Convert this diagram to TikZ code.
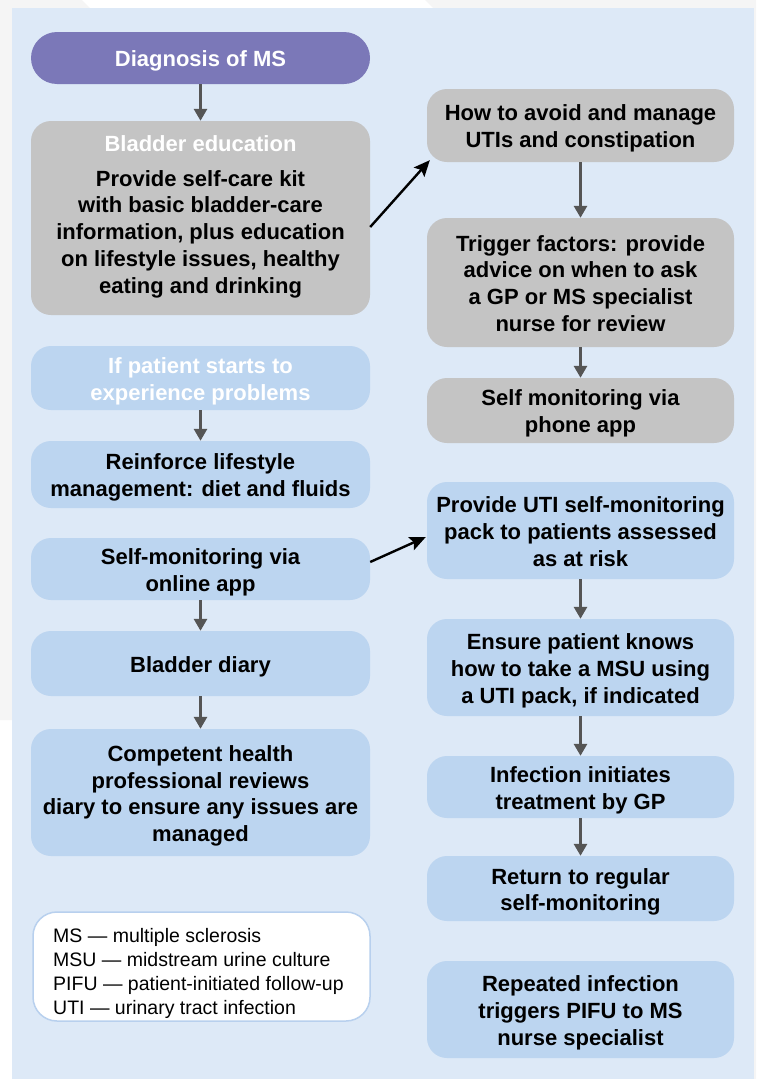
\documentclass[tikz,border=0pt]{standalone}
\usepackage{fontspec}
\setmainfont{Liberation Sans}
\usetikzlibrary{arrows.meta}
\definecolor{panel}{HTML}{DDE9F7}
\definecolor{bluebox}{HTML}{BCD5F0}
\definecolor{graybox}{HTML}{C4C4C4}
\definecolor{purplebox}{HTML}{7B78B8}
\definecolor{arrowgray}{HTML}{555555}
\definecolor{outgray}{HTML}{F5F5F5}
\definecolor{legborder}{HTML}{B8D0EE}
\newcommand\boxtext[1]{\raisebox{-3.5pt}[\height][\depth]{\begin{tabular}{@{}c@{}}#1\end{tabular}}}
\begin{document}
\begin{tikzpicture}[x=1pt,y=-1pt,
  box/.style={rounded corners=20pt, inner sep=0pt,
    font=\fontsize{22}{26.7}\selectfont\bfseries},
  lbox/.style={box, minimum width=339pt},
  rbox/.style={box, minimum width=307pt},
  blue/.style={fill=bluebox},
  grey/.style={fill=graybox},
  garrow/.style={draw=arrowgray, line width=2.8pt, -{Triangle[width=13pt,length=12pt]}},
  karrow/.style={draw=black, line width=2.4pt, -{Stealth[width=14pt,length=16pt,inset=3pt]}},
  legend/.style={rounded corners=24pt, fill=white, draw=legborder, line width=1.5pt,
    minimum width=337pt, minimum height=109pt, inner sep=0pt},
  legtext/.style={align=left, inner sep=0pt, font=\fontsize{19.5}{24}\selectfont}
]
\useasboundingbox (0,0) rectangle (756,1079);
% page background
\fill[white] (0,0) rectangle (756,1079);
\fill[outgray] (0,0) -- (82,0) -- (90,8) -- (12,8) -- (12,720) -- (0,720) -- cycle;
\fill[outgray] (425,0) -- (756,0) -- (756,1079) -- (754,1079) -- (754,8) -- (433,8) -- cycle;
\fill[panel] (12,8) rectangle (754,1079);

% left column
\node[lbox, fill=purplebox, text=white, minimum height=52pt, rounded corners=26pt] (diag) at (200.5,58) {\boxtext{Diagnosis of MS}};
\node[lbox, grey, minimum height=194pt] (b2) at (200.5,218) {};
\node[box, align=center] (b2t) at (200.5,216.5) {\textcolor{white}{Bladder education}\\[8.3pt]
  Provide self-care kit\\with basic bladder-care\\information, plus education\\on lifestyle issues, healthy\\eating and drinking};
\node[lbox, blue, text=white, minimum height=64pt] (b3) at (200.5,378) {\boxtext{If patient starts to\\experience problems}};
\node[lbox, blue, minimum height=67pt] (b4) at (200.5,474.5) {\boxtext{Reinforce lifestyle\\management: diet and fluids}};
\node[lbox, blue, minimum height=62pt] (b5) at (200.5,569) {\boxtext{Self-monitoring via\\online app}};
\node[lbox, blue, minimum height=65pt] (b6) at (200.5,663.5) {\boxtext{Bladder diary}};
\node[lbox, blue, minimum height=127pt] (b7) at (200.5,792.5) {\boxtext{Competent health\\professional reviews\\diary to ensure any issues are\\managed}};
\node[legend] (leg) at (201.5,966.5) {};
\node[legtext, anchor=west] (legt) at (53,973) {MS — multiple sclerosis\\MSU — midstream urine culture\\PIFU — patient-initiated follow-up\\UTI — urinary tract infection};

% right column
\node[rbox, grey, minimum height=73pt] (r1) at (580.5,125.5) {\boxtext{How to avoid and manage\\UTIs and constipation}};
\node[rbox, grey, minimum height=129pt] (r2) at (580.5,282.5) {\boxtext{Trigger factors: provide\\advice on when to ask\\a GP or MS specialist\\nurse for review}};
\node[rbox, grey, minimum height=65pt] (r3) at (580.5,410.5) {\boxtext{Self monitoring via\\phone app}};
\node[rbox, blue, minimum height=97pt] (r4) at (580.5,530.5) {\boxtext{Provide UTI self-monitoring\\pack to patients assessed\\as at risk}};
\node[rbox, blue, minimum height=97pt] (r5) at (580.5,667.5) {\boxtext{Ensure patient knows\\how to take a MSU using\\a UTI pack, if indicated}};
\node[rbox, blue, minimum height=62pt] (r6) at (580.5,787) {\boxtext{Infection initiates\\treatment by GP}};
\node[rbox, blue, minimum height=65pt] (r7) at (580.5,888.5) {\boxtext{Return to regular\\self-monitoring}};
\node[rbox, blue, minimum height=97pt] (r8) at (580.5,1009.5) {\boxtext{Repeated infection\\triggers PIFU to MS\\nurse specialist}};

% vertical arrows
\draw[garrow] (diag.south) -- (b2.north);
\draw[garrow] (b3.south) -- (b4.north);
\draw[garrow] (b5.south) -- (b6.north);
\draw[garrow] (b6.south) -- (b7.north);
\draw[garrow] (r1.south) -- (r2.north);
\draw[garrow] (r2.south) -- (r3.north);
\draw[garrow] (r4.south) -- (r5.north);
\draw[garrow] (r5.south) -- (r6.north);
\draw[garrow] (r6.south) -- (r7.north);

% diagonal arrows
\draw[karrow] ([yshift=-9pt]b2.east) -- ([xshift=3pt,yshift=2pt]r1.south west);
\draw[karrow] ([yshift=7pt]b5.east) -- ([xshift=-1pt,yshift=-6.5pt]r4.west);
\end{tikzpicture}
\end{document}
